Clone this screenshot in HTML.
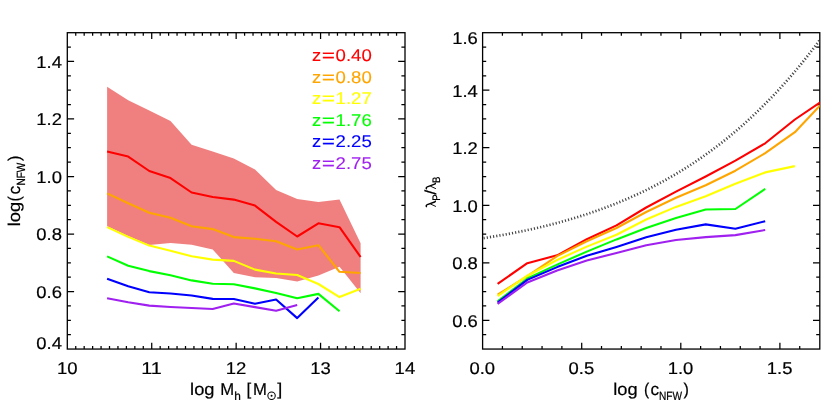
<!DOCTYPE html>
<html><head><meta charset="utf-8"><title>chart</title>
<style>html,body{margin:0;padding:0;background:#fff;}body{width:830px;height:415px;overflow:hidden;font-family:"Liberation Sans",sans-serif;}</style></head>
<body>
<svg width="830" height="415" viewBox="0 0 830 415" font-family='"Liberation Sans", sans-serif' text-rendering="geometricPrecision" style="display:block;will-change:transform">
<rect x="0" y="0" width="830" height="415" fill="#ffffff"/>
<rect x="67.30" y="32.70" width="337.70" height="316.35" fill="none" stroke="#000" stroke-width="1.30"/>
<path d="M151.72 349.05v-6.20M151.72 32.70v6.20M236.15 349.05v-6.20M236.15 32.70v6.20M320.57 349.05v-6.20M320.57 32.70v6.20M75.74 349.05v-3.10M75.74 32.70v3.10M84.18 349.05v-3.10M84.18 32.70v3.10M92.63 349.05v-3.10M92.63 32.70v3.10M101.07 349.05v-3.10M101.07 32.70v3.10M109.51 349.05v-3.10M109.51 32.70v3.10M117.95 349.05v-3.10M117.95 32.70v3.10M126.40 349.05v-3.10M126.40 32.70v3.10M134.84 349.05v-3.10M134.84 32.70v3.10M143.28 349.05v-3.10M143.28 32.70v3.10M160.17 349.05v-3.10M160.17 32.70v3.10M168.61 349.05v-3.10M168.61 32.70v3.10M177.05 349.05v-3.10M177.05 32.70v3.10M185.50 349.05v-3.10M185.50 32.70v3.10M193.94 349.05v-3.10M193.94 32.70v3.10M202.38 349.05v-3.10M202.38 32.70v3.10M210.82 349.05v-3.10M210.82 32.70v3.10M219.27 349.05v-3.10M219.27 32.70v3.10M227.71 349.05v-3.10M227.71 32.70v3.10M244.59 349.05v-3.10M244.59 32.70v3.10M253.03 349.05v-3.10M253.03 32.70v3.10M261.48 349.05v-3.10M261.48 32.70v3.10M269.92 349.05v-3.10M269.92 32.70v3.10M278.36 349.05v-3.10M278.36 32.70v3.10M286.80 349.05v-3.10M286.80 32.70v3.10M295.25 349.05v-3.10M295.25 32.70v3.10M303.69 349.05v-3.10M303.69 32.70v3.10M312.13 349.05v-3.10M312.13 32.70v3.10M329.02 349.05v-3.10M329.02 32.70v3.10M337.46 349.05v-3.10M337.46 32.70v3.10M345.90 349.05v-3.10M345.90 32.70v3.10M354.35 349.05v-3.10M354.35 32.70v3.10M362.79 349.05v-3.10M362.79 32.70v3.10M371.23 349.05v-3.10M371.23 32.70v3.10M379.67 349.05v-3.10M379.67 32.70v3.10M388.12 349.05v-3.10M388.12 32.70v3.10M396.56 349.05v-3.10M396.56 32.70v3.10M67.30 291.53h6.80M405.00 291.53h-6.80M67.30 234.01h6.80M405.00 234.01h-6.80M67.30 176.50h6.80M405.00 176.50h-6.80M67.30 118.98h6.80M405.00 118.98h-6.80M67.30 61.46h6.80M405.00 61.46h-6.80M67.30 334.67h3.60M405.00 334.67h-3.60M67.30 320.29h3.60M405.00 320.29h-3.60M67.30 305.91h3.60M405.00 305.91h-3.60M67.30 277.15h3.60M405.00 277.15h-3.60M67.30 262.77h3.60M405.00 262.77h-3.60M67.30 248.39h3.60M405.00 248.39h-3.60M67.30 219.63h3.60M405.00 219.63h-3.60M67.30 205.25h3.60M405.00 205.25h-3.60M67.30 190.87h3.60M405.00 190.87h-3.60M67.30 162.12h3.60M405.00 162.12h-3.60M67.30 147.74h3.60M405.00 147.74h-3.60M67.30 133.36h3.60M405.00 133.36h-3.60M67.30 104.60h3.60M405.00 104.60h-3.60M67.30 90.22h3.60M405.00 90.22h-3.60M67.30 75.84h3.60M405.00 75.84h-3.60M67.30 47.08h3.60M405.00 47.08h-3.60" fill="none" stroke="#000" stroke-width="1.25"/>
<rect x="482.60" y="32.70" width="337.20" height="316.35" fill="none" stroke="#000" stroke-width="1.30"/>
<path d="M581.70 349.05v-6.20M581.70 32.70v6.20M680.80 349.05v-6.20M680.80 32.70v6.20M779.90 349.05v-6.20M779.90 32.70v6.20M502.42 349.05v-3.10M502.42 32.70v3.10M522.24 349.05v-3.10M522.24 32.70v3.10M542.06 349.05v-3.10M542.06 32.70v3.10M561.88 349.05v-3.10M561.88 32.70v3.10M601.52 349.05v-3.10M601.52 32.70v3.10M621.34 349.05v-3.10M621.34 32.70v3.10M641.16 349.05v-3.10M641.16 32.70v3.10M660.98 349.05v-3.10M660.98 32.70v3.10M700.62 349.05v-3.10M700.62 32.70v3.10M720.44 349.05v-3.10M720.44 32.70v3.10M740.26 349.05v-3.10M740.26 32.70v3.10M760.08 349.05v-3.10M760.08 32.70v3.10M799.72 349.05v-3.10M799.72 32.70v3.10M482.60 320.29h6.80M819.80 320.29h-6.80M482.60 262.77h6.80M819.80 262.77h-6.80M482.60 205.25h6.80M819.80 205.25h-6.80M482.60 147.74h6.80M819.80 147.74h-6.80M482.60 90.22h6.80M819.80 90.22h-6.80M482.60 334.67h3.60M819.80 334.67h-3.60M482.60 305.91h3.60M819.80 305.91h-3.60M482.60 291.53h3.60M819.80 291.53h-3.60M482.60 277.15h3.60M819.80 277.15h-3.60M482.60 248.39h3.60M819.80 248.39h-3.60M482.60 234.01h3.60M819.80 234.01h-3.60M482.60 219.63h3.60M819.80 219.63h-3.60M482.60 190.88h3.60M819.80 190.88h-3.60M482.60 176.50h3.60M819.80 176.50h-3.60M482.60 162.12h3.60M819.80 162.12h-3.60M482.60 133.36h3.60M819.80 133.36h-3.60M482.60 118.98h3.60M819.80 118.98h-3.60M482.60 104.60h3.60M819.80 104.60h-3.60M482.60 75.84h3.60M819.80 75.84h-3.60M482.60 61.46h3.60M819.80 61.46h-3.60M482.60 47.08h3.60M819.80 47.08h-3.60" fill="none" stroke="#000" stroke-width="1.25"/>
<polygon points="107.1,86.7 128.2,100.2 149.3,110.6 170.5,121.0 191.6,144.7 212.7,151.6 233.8,158.5 255.0,169.6 276.1,190.0 297.2,199.1 318.4,201.9 339.5,199.4 360.6,243.2 360.6,293.2 339.5,266.8 318.4,275.5 297.2,281.4 276.1,278.0 255.0,277.2 233.8,272.9 212.7,249.4 191.6,244.8 170.5,243.1 149.3,245.0 128.2,236.0 107.1,226.3" fill="#f08080"/>
<polyline points="107.1,151.4 128.2,156.6 149.3,171.0 170.5,178.1 191.6,192.5 212.7,197.0 233.8,199.6 255.0,205.6 276.1,221.8 297.2,236.5 318.4,223.3 339.5,227.2 360.6,257.0" fill="none" stroke="#ff0000" stroke-width="2.10" stroke-linejoin="round" stroke-linecap="butt"/>
<polyline points="107.1,193.4 128.2,203.2 149.3,212.8 170.5,217.8 191.6,226.3 212.7,229.1 233.8,237.1 255.0,238.8 276.1,241.3 297.2,249.5 318.4,245.2 339.5,271.8 360.6,273.0" fill="none" stroke="#ffa500" stroke-width="2.10" stroke-linejoin="round" stroke-linecap="butt"/>
<polyline points="107.1,227.1 128.2,236.9 149.3,245.6 170.5,250.7 191.6,256.3 212.7,259.6 233.8,260.9 255.0,269.6 276.1,273.5 297.2,275.0 318.4,284.0 339.5,297.1 360.6,288.7" fill="none" stroke="#ffff00" stroke-width="2.10" stroke-linejoin="round" stroke-linecap="butt"/>
<polyline points="107.1,256.4 128.2,265.7 149.3,271.1 170.5,275.3 191.6,280.4 212.7,283.7 233.8,284.2 255.0,288.4 276.1,293.0 297.2,298.3 318.4,293.9 339.5,311.3" fill="none" stroke="#00ff00" stroke-width="2.10" stroke-linejoin="round" stroke-linecap="butt"/>
<polyline points="107.1,278.7 128.2,286.3 149.3,292.2 170.5,293.5 191.6,295.5 212.7,298.9 233.8,299.0 255.0,303.7 276.1,299.5 297.2,318.1 318.4,297.5" fill="none" stroke="#0000ff" stroke-width="2.10" stroke-linejoin="round" stroke-linecap="butt"/>
<polyline points="107.1,298.2 128.2,302.3 149.3,305.6 170.5,307.0 191.6,308.0 212.7,309.0 233.8,303.5 255.0,307.1 276.1,310.8 297.2,305.1" fill="none" stroke="#a020f0" stroke-width="2.10" stroke-linejoin="round" stroke-linecap="butt"/>
<clipPath id="cr"><rect x="482.6" y="32.7" width="337.2" height="316.4"/></clipPath>
<g clip-path="url(#cr)">
<polyline points="482.60,238.29 484.33,238.03 486.07,237.75 487.80,237.48 489.54,237.20 491.27,236.91 493.01,236.63 494.74,236.33 496.47,236.04 498.21,235.74 499.94,235.44 501.68,235.13 503.41,234.82 505.15,234.51 506.88,234.19 508.61,233.86 510.35,233.54 512.08,233.21 513.82,232.87 515.55,232.53 517.28,232.19 519.02,231.84 520.75,231.49 522.49,231.13 524.22,230.77 525.96,230.40 527.69,230.03 529.42,229.65 531.16,229.27 532.89,228.88 534.63,228.49 536.36,228.10 538.10,227.70 539.83,227.29 541.56,226.88 543.30,226.46 545.03,226.04 546.77,225.62 548.50,225.18 550.24,224.75 551.97,224.30 553.70,223.85 555.44,223.40 557.17,222.94 558.91,222.47 560.64,222.00 562.38,221.53 564.11,221.04 565.84,220.55 567.58,220.06 569.31,219.56 571.05,219.05 572.78,218.54 574.52,218.02 576.25,217.49 577.98,216.96 579.72,216.42 581.45,215.87 583.19,215.32 584.92,214.76 586.65,214.19 588.39,213.62 590.12,213.04 591.86,212.45 593.59,211.86 595.33,211.26 597.06,210.65 598.79,210.03 600.53,209.41 602.26,208.78 604.00,208.14 605.73,207.50 607.47,206.84 609.20,206.18 610.93,205.51 612.67,204.83 614.40,204.15 616.14,203.46 617.87,202.76 619.61,202.05 621.34,201.33 623.07,200.60 624.81,199.87 626.54,199.12 628.28,198.37 630.01,197.61 631.75,196.84 633.48,196.07 635.21,195.28 636.95,194.48 638.68,193.68 640.42,192.86 642.15,192.04 643.89,191.20 645.62,190.36 647.35,189.51 649.09,188.65 650.82,187.78 652.56,186.89 654.29,186.00 656.02,185.10 657.76,184.19 659.49,183.27 661.23,182.33 662.96,181.39 664.70,180.44 666.43,179.48 668.16,178.50 669.90,177.52 671.63,176.52 673.37,175.51 675.10,174.49 676.84,173.47 678.57,172.43 680.30,171.37 682.04,170.31 683.77,169.24 685.51,168.15 687.24,167.05 688.98,165.94 690.71,164.82 692.44,163.69 694.18,162.54 695.91,161.38 697.65,160.21 699.38,159.03 701.12,157.83 702.85,156.62 704.58,155.40 706.32,154.17 708.05,152.92 709.79,151.66 711.52,150.39 713.26,149.10 714.99,147.81 716.72,146.49 718.46,145.17 720.19,143.83 721.93,142.47 723.66,141.10 725.39,139.72 727.13,138.33 728.86,136.92 730.60,135.49 732.33,134.05 734.07,132.60 735.80,131.13 737.53,129.65 739.27,128.15 741.00,126.63 742.74,125.11 744.47,123.56 746.21,122.00 747.94,120.43 749.67,118.84 751.41,117.23 753.14,115.61 754.88,113.98 756.61,112.32 758.35,110.65 760.08,108.97 761.81,107.26 763.55,105.55 765.28,103.81 767.02,102.06 768.75,100.29 770.49,98.50 772.22,96.70 773.95,94.88 775.69,93.04 777.42,91.18 779.16,89.31 780.89,87.42 782.63,85.51 784.36,83.58 786.09,81.64 787.83,79.68 789.56,77.69 791.30,75.69 793.03,73.68 794.76,71.64 796.50,69.58 798.23,67.51 799.97,65.41 801.70,63.30 803.44,61.16 805.17,59.01 806.90,56.84 808.64,54.64 810.37,52.43 812.11,50.20 813.84,47.95 815.58,45.67 817.31,43.38 819.04,41.06 820.78,38.73 822.51,36.37 824.25,33.99 825.98,31.59 827.72,29.17 829.45,26.73" fill="none" stroke="#454545" stroke-width="2.7" stroke-dasharray="1.15 2.05" stroke-dashoffset="-1.0"/>
<polyline points="497.6,283.9 527.3,263.2 557.1,255.3 586.8,239.2 616.5,225.4 646.2,207.5 676.0,191.6 705.7,176.5 735.4,160.6 765.2,143.3 794.9,119.5 824.6,99.4" fill="none" stroke="#ff0000" stroke-width="2.10" stroke-linejoin="round" stroke-linecap="butt"/>
<polyline points="497.6,294.7 527.3,276.2 557.1,256.1 586.8,241.2 616.5,228.0 646.2,212.0 676.0,197.8 705.7,185.2 735.4,170.7 765.2,153.2 794.9,132.2 824.6,100.7" fill="none" stroke="#ffa500" stroke-width="2.10" stroke-linejoin="round" stroke-linecap="butt"/>
<polyline points="497.6,296.1 527.3,275.7 557.1,260.0 586.8,246.6 616.5,234.7 646.2,219.5 676.0,206.9 705.7,196.3 735.4,183.7 765.2,172.4 794.9,166.1" fill="none" stroke="#ffff00" stroke-width="2.10" stroke-linejoin="round" stroke-linecap="butt"/>
<polyline points="497.6,301.3 527.3,278.5 557.1,264.6 586.8,251.6 616.5,239.4 646.2,228.0 676.0,217.9 705.7,209.5 735.4,209.0 765.2,188.9" fill="none" stroke="#00ff00" stroke-width="2.10" stroke-linejoin="round" stroke-linecap="butt"/>
<polyline points="497.6,302.6 527.3,279.9 557.1,267.1 586.8,255.8 616.5,246.9 646.2,237.3 676.0,229.7 705.7,224.4 735.4,228.8 765.2,221.2" fill="none" stroke="#0000ff" stroke-width="2.10" stroke-linejoin="round" stroke-linecap="butt"/>
<polyline points="497.6,303.9 527.3,282.5 557.1,270.5 586.8,260.4 616.5,253.0 646.2,245.2 676.0,240.0 705.7,237.1 735.4,235.1 765.2,230.0" fill="none" stroke="#a020f0" stroke-width="2.10" stroke-linejoin="round" stroke-linecap="butt"/>
</g>
<text x="61.90" y="349.35" font-size="17.00" text-anchor="end" fill="#000" stroke="#000" stroke-width="0.20" textLength="25.60" lengthAdjust="spacingAndGlyphs">0.4</text>
<text x="61.90" y="297.93" font-size="17.00" text-anchor="end" fill="#000" stroke="#000" stroke-width="0.20" textLength="25.60" lengthAdjust="spacingAndGlyphs">0.6</text>
<text x="61.90" y="240.41" font-size="17.00" text-anchor="end" fill="#000" stroke="#000" stroke-width="0.20" textLength="25.60" lengthAdjust="spacingAndGlyphs">0.8</text>
<text x="61.90" y="182.90" font-size="17.00" text-anchor="end" fill="#000" stroke="#000" stroke-width="0.20" textLength="25.60" lengthAdjust="spacingAndGlyphs">1.0</text>
<text x="61.90" y="125.38" font-size="17.00" text-anchor="end" fill="#000" stroke="#000" stroke-width="0.20" textLength="25.60" lengthAdjust="spacingAndGlyphs">1.2</text>
<text x="61.90" y="67.86" font-size="17.00" text-anchor="end" fill="#000" stroke="#000" stroke-width="0.20" textLength="25.60" lengthAdjust="spacingAndGlyphs">1.4</text>
<text x="67.20" y="373.70" font-size="17.00" text-anchor="middle" fill="#000" stroke="#000" stroke-width="0.20" textLength="20.60" lengthAdjust="spacingAndGlyphs">10</text>
<text x="151.62" y="373.70" font-size="17.00" text-anchor="middle" fill="#000" stroke="#000" stroke-width="0.20" textLength="20.60" lengthAdjust="spacingAndGlyphs">11</text>
<text x="236.05" y="373.70" font-size="17.00" text-anchor="middle" fill="#000" stroke="#000" stroke-width="0.20" textLength="20.60" lengthAdjust="spacingAndGlyphs">12</text>
<text x="320.47" y="373.70" font-size="17.00" text-anchor="middle" fill="#000" stroke="#000" stroke-width="0.20" textLength="20.60" lengthAdjust="spacingAndGlyphs">13</text>
<text x="404.90" y="373.70" font-size="17.00" text-anchor="middle" fill="#000" stroke="#000" stroke-width="0.20" textLength="20.60" lengthAdjust="spacingAndGlyphs">14</text>
<text x="477.80" y="326.69" font-size="17.00" text-anchor="end" fill="#000" stroke="#000" stroke-width="0.20" textLength="25.60" lengthAdjust="spacingAndGlyphs">0.6</text>
<text x="477.80" y="269.17" font-size="17.00" text-anchor="end" fill="#000" stroke="#000" stroke-width="0.20" textLength="25.60" lengthAdjust="spacingAndGlyphs">0.8</text>
<text x="477.80" y="211.65" font-size="17.00" text-anchor="end" fill="#000" stroke="#000" stroke-width="0.20" textLength="25.60" lengthAdjust="spacingAndGlyphs">1.0</text>
<text x="477.80" y="154.14" font-size="17.00" text-anchor="end" fill="#000" stroke="#000" stroke-width="0.20" textLength="25.60" lengthAdjust="spacingAndGlyphs">1.2</text>
<text x="477.80" y="96.62" font-size="17.00" text-anchor="end" fill="#000" stroke="#000" stroke-width="0.20" textLength="25.60" lengthAdjust="spacingAndGlyphs">1.4</text>
<text x="477.80" y="44.30" font-size="17.00" text-anchor="end" fill="#000" stroke="#000" stroke-width="0.20" textLength="25.60" lengthAdjust="spacingAndGlyphs">1.6</text>
<text x="482.30" y="373.70" font-size="17.00" text-anchor="middle" fill="#000" stroke="#000" stroke-width="0.20" textLength="25.60" lengthAdjust="spacingAndGlyphs">0.0</text>
<text x="581.40" y="373.70" font-size="17.00" text-anchor="middle" fill="#000" stroke="#000" stroke-width="0.20" textLength="25.60" lengthAdjust="spacingAndGlyphs">0.5</text>
<text x="680.50" y="373.70" font-size="17.00" text-anchor="middle" fill="#000" stroke="#000" stroke-width="0.20" textLength="25.60" lengthAdjust="spacingAndGlyphs">1.0</text>
<text x="779.60" y="373.70" font-size="17.00" text-anchor="middle" fill="#000" stroke="#000" stroke-width="0.20" textLength="25.60" lengthAdjust="spacingAndGlyphs">1.5</text>
<text x="311.90" y="61.40" font-size="17.00" text-anchor="start" fill="#ff0000" stroke="#ff0000" stroke-width="0.10" textLength="9.20" lengthAdjust="spacingAndGlyphs">z</text>
<text x="321.90" y="61.40" font-size="17.00" text-anchor="start" fill="#ff0000" stroke="#ff0000" stroke-width="0.35" textLength="12.80" lengthAdjust="spacingAndGlyphs">=</text>
<text x="335.60" y="61.40" font-size="17.00" text-anchor="start" fill="#ff0000" stroke="#ff0000" stroke-width="0.10" textLength="36.20" lengthAdjust="spacingAndGlyphs">0.40</text>
<text x="311.90" y="83.00" font-size="17.00" text-anchor="start" fill="#ffa500" stroke="#ffa500" stroke-width="0.10" textLength="9.20" lengthAdjust="spacingAndGlyphs">z</text>
<text x="321.90" y="83.00" font-size="17.00" text-anchor="start" fill="#ffa500" stroke="#ffa500" stroke-width="0.35" textLength="12.80" lengthAdjust="spacingAndGlyphs">=</text>
<text x="335.60" y="83.00" font-size="17.00" text-anchor="start" fill="#ffa500" stroke="#ffa500" stroke-width="0.10" textLength="36.20" lengthAdjust="spacingAndGlyphs">0.80</text>
<text x="311.90" y="104.40" font-size="17.00" text-anchor="start" fill="#ffff00" stroke="#ffff00" stroke-width="0.10" textLength="9.20" lengthAdjust="spacingAndGlyphs">z</text>
<text x="321.90" y="104.40" font-size="17.00" text-anchor="start" fill="#ffff00" stroke="#ffff00" stroke-width="0.35" textLength="12.80" lengthAdjust="spacingAndGlyphs">=</text>
<text x="335.60" y="104.40" font-size="17.00" text-anchor="start" fill="#ffff00" stroke="#ffff00" stroke-width="0.10" textLength="36.20" lengthAdjust="spacingAndGlyphs">1.27</text>
<text x="311.90" y="125.80" font-size="17.00" text-anchor="start" fill="#00ff00" stroke="#00ff00" stroke-width="0.10" textLength="9.20" lengthAdjust="spacingAndGlyphs">z</text>
<text x="321.90" y="125.80" font-size="17.00" text-anchor="start" fill="#00ff00" stroke="#00ff00" stroke-width="0.35" textLength="12.80" lengthAdjust="spacingAndGlyphs">=</text>
<text x="335.60" y="125.80" font-size="17.00" text-anchor="start" fill="#00ff00" stroke="#00ff00" stroke-width="0.10" textLength="36.20" lengthAdjust="spacingAndGlyphs">1.76</text>
<text x="311.90" y="147.30" font-size="17.00" text-anchor="start" fill="#0000ff" stroke="#0000ff" stroke-width="0.10" textLength="9.20" lengthAdjust="spacingAndGlyphs">z</text>
<text x="321.90" y="147.30" font-size="17.00" text-anchor="start" fill="#0000ff" stroke="#0000ff" stroke-width="0.35" textLength="12.80" lengthAdjust="spacingAndGlyphs">=</text>
<text x="335.60" y="147.30" font-size="17.00" text-anchor="start" fill="#0000ff" stroke="#0000ff" stroke-width="0.10" textLength="36.20" lengthAdjust="spacingAndGlyphs">2.25</text>
<text x="311.90" y="168.90" font-size="17.00" text-anchor="start" fill="#a020f0" stroke="#a020f0" stroke-width="0.10" textLength="9.20" lengthAdjust="spacingAndGlyphs">z</text>
<text x="321.90" y="168.90" font-size="17.00" text-anchor="start" fill="#a020f0" stroke="#a020f0" stroke-width="0.35" textLength="12.80" lengthAdjust="spacingAndGlyphs">=</text>
<text x="335.60" y="168.90" font-size="17.00" text-anchor="start" fill="#a020f0" stroke="#a020f0" stroke-width="0.10" textLength="36.20" lengthAdjust="spacingAndGlyphs">2.75</text>
<text x="190.10" y="395.10" font-size="17.00" text-anchor="start" fill="#000" stroke="#000" stroke-width="0.20" textLength="24.40" lengthAdjust="spacingAndGlyphs">log</text>
<text x="220.30" y="395.10" font-size="17.00" text-anchor="start" fill="#000" stroke="#000" stroke-width="0.20" textLength="13.90" lengthAdjust="spacingAndGlyphs">M</text>
<text x="234.30" y="400.10" font-size="11.90" text-anchor="start" fill="#000" stroke="#000" stroke-width="0.22" textLength="6.60" lengthAdjust="spacingAndGlyphs">h</text>
<text x="246.40" y="395.10" font-size="17.00" text-anchor="start" fill="#000" stroke="#000" stroke-width="0.20" textLength="4.70" lengthAdjust="spacingAndGlyphs">[</text>
<text x="253.00" y="395.10" font-size="17.00" text-anchor="start" fill="#000" stroke="#000" stroke-width="0.20" textLength="13.90" lengthAdjust="spacingAndGlyphs">M</text>
<circle cx="271.55" cy="395.75" r="3.7" fill="none" stroke="#000" stroke-width="1.05"/>
<circle cx="271.55" cy="395.75" r="1.0" fill="#000"/>
<text x="277.20" y="395.10" font-size="17.00" text-anchor="start" fill="#000" stroke="#000" stroke-width="0.20" textLength="5.00" lengthAdjust="spacingAndGlyphs">]</text>
<text x="613.20" y="395.10" font-size="17.00" text-anchor="start" fill="#000" stroke="#000" stroke-width="0.20" textLength="24.40" lengthAdjust="spacingAndGlyphs">log</text>
<text x="643.90" y="395.10" font-size="17.00" text-anchor="start" fill="#000" stroke="#000" stroke-width="0.20" textLength="5.20" lengthAdjust="spacingAndGlyphs">(</text>
<text x="650.50" y="395.10" font-size="17.00" text-anchor="start" fill="#000" stroke="#000" stroke-width="0.20" textLength="8.60" lengthAdjust="spacingAndGlyphs">c</text>
<text x="659.00" y="399.90" font-size="11.90" text-anchor="start" fill="#000" stroke="#000" stroke-width="0.22" textLength="23.00" lengthAdjust="spacingAndGlyphs">NFW</text>
<text x="683.50" y="395.10" font-size="17.00" text-anchor="start" fill="#000" stroke="#000" stroke-width="0.20" textLength="5.40" lengthAdjust="spacingAndGlyphs">)</text>
<g transform="translate(20.2,226.2) rotate(-90)">
<text x="0.00" y="0.00" font-size="17.00" text-anchor="start" fill="#000" stroke="#000" stroke-width="0.20" textLength="24.40" lengthAdjust="spacingAndGlyphs">log</text>
<text x="24.60" y="0.00" font-size="17.00" text-anchor="start" fill="#000" stroke="#000" stroke-width="0.20" textLength="5.40" lengthAdjust="spacingAndGlyphs">(</text>
<text x="31.70" y="0.00" font-size="17.00" text-anchor="start" fill="#000" stroke="#000" stroke-width="0.20" textLength="8.80" lengthAdjust="spacingAndGlyphs">c</text>
<text x="40.60" y="4.50" font-size="11.90" text-anchor="start" fill="#000" stroke="#000" stroke-width="0.22" textLength="22.80" lengthAdjust="spacingAndGlyphs">NFW</text>
<text x="65.10" y="0.00" font-size="17.00" text-anchor="start" fill="#000" stroke="#000" stroke-width="0.20" textLength="5.40" lengthAdjust="spacingAndGlyphs">)</text>
</g>
<g transform="translate(435.9,207.1) rotate(-90)">
<g transform="translate(0.00,0)" fill="none" stroke="#000">
<path d="M0.0,-9.2 C0.9,-10.0 1.9,-9.9 2.4,-8.6 L5.1,-1.3 C5.4,-0.5 5.8,-0.4 6.4,-0.8" stroke-width="1.4"/>
<path d="M3.2,-5.6 L0.6,0" stroke-width="0.95"/>
</g>
<text x="6.40" y="3.90" font-size="10.90" text-anchor="start" fill="#000" stroke="#000" stroke-width="0.22" textLength="6.40" lengthAdjust="spacingAndGlyphs">P</text>
<text x="12.30" y="0.00" font-size="16.00" text-anchor="start" fill="#000" stroke="#000" stroke-width="0.20" textLength="4.90" lengthAdjust="spacingAndGlyphs">/</text>
<g transform="translate(17.80,0)" fill="none" stroke="#000">
<path d="M0.0,-9.2 C0.9,-10.0 1.9,-9.9 2.4,-8.6 L5.1,-1.3 C5.4,-0.5 5.8,-0.4 6.4,-0.8" stroke-width="1.4"/>
<path d="M3.2,-5.6 L0.6,0" stroke-width="0.95"/>
</g>
<text x="24.20" y="3.90" font-size="10.90" text-anchor="start" fill="#000" stroke="#000" stroke-width="0.22" textLength="6.40" lengthAdjust="spacingAndGlyphs">B</text>
</g>
</svg>
</body></html>
